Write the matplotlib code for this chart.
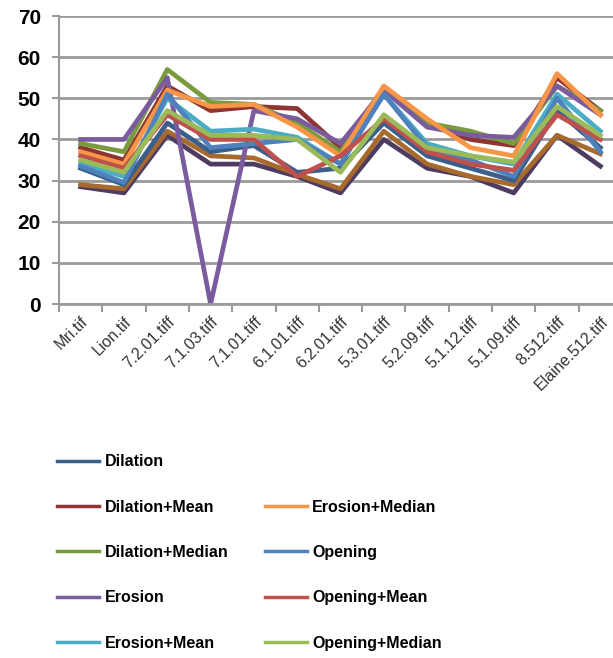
import matplotlib.pyplot as plt
from matplotlib.lines import Line2D
import numpy as np

images = ['Mri.tif', 'Lion.tif', '7.2.01.tiff', '7.1.03.tiff', '7.1.01.tiff',
          '6.1.01.tiff', '6.2.01.tiff', '5.3.01.tiff', '5.2.09.tiff',
          '5.1.12.tiff', '5.1.09.tiff', '8.512.tiff', 'Elaine.512.tiff']

# series without a visible legend entry (legend is cut off in the source)
extra_brown = [29, 28, 42, 36, 35.5, 31.5, 28, 42, 34, 31, 29, 41, 36.5]
extra_dpurple = [28.5, 27, 41, 34, 34, 31, 27, 40, 33, 31, 27, 41, 33.5]

dilation = [33, 29, 44, 37, 38.5, 32, 33, 44, 36, 33, 30, 47, 38]
dilation_mean = [38, 35, 53, 47, 48, 47.5, 38, 52.5, 44, 40, 38.5, 55, 47]
dilation_median = [39, 37, 57, 49, 48.5, 44, 37, 52, 44, 42, 39, 53, 47]
erosion = [40, 40, 55, 0, 47, 45, 39, 52, 43, 41, 40.5, 53, 46]
erosion_mean = [34, 31, 50, 42, 42.5, 40.5, 34, 51, 39, 36, 34, 51, 42]
erosion_median = [37, 34, 52, 48, 48.5, 43, 36, 53, 45, 38, 36, 56, 46]
opening = [33.5, 29.5, 51, 38, 39, 40, 34, 51, 38, 35, 31, 50, 37]
opening_mean = [36, 33, 46, 40, 40, 31, 36, 45, 37, 34, 32.5, 46, 40]
opening_median = [35, 32, 47, 41, 41, 40, 32, 46, 38, 36, 34.5, 48, 41]

names = ['Dilation', 'Dilation+Mean', 'Dilation+Median', 'Erosion',
         'Erosion+Mean', 'Erosion+Median', 'Opening', 'Opening+Mean',
         'Opening+Median']
series = [dilation, dilation_mean, dilation_median, erosion, erosion_mean,
          erosion_median, opening, opening_mean, opening_median]
colors = ['#3A5F8A', '#8E3432', '#7A9A3E', '#7A5C9E', '#4BACC6',
          '#F79646', '#4F81BD', '#C0504D', '#9BBB59']

fig = plt.figure(figsize=(6.13, 6.58), dpi=100)
ax = fig.add_axes([59/613, 1-304/658, 563/613, 288/658])

x = np.arange(len(images))
ax.plot(x, extra_dpurple, color='#4D3B62', lw=3.4, label='_nolegend_')
ax.plot(x, extra_brown, color='#A86A2C', lw=3.4, label='_nolegend_')
handles = []
for name, vals, c in zip(names, series, colors):
    ln, = ax.plot(x, vals, color=c, lw=3.4, label=name)
    handles.append(ln)

ax.set_xlim(-0.5, 12.5)
ax.set_ylim(0, 70)
ax.set_yticks(range(0, 71, 10))
ax.yaxis.grid(True, color='#9A9A9A', lw=2)
ax.set_axisbelow(True)
for s in ['top', 'right']:
    ax.spines[s].set_visible(False)
ax.spines['left'].set_color('#9A9A9A')
ax.spines['left'].set_linewidth(1.5)
ax.spines['bottom'].set_color('#9A9A9A')
ax.spines['bottom'].set_linewidth(2)

ax.set_xticks(x)
ax.set_xticklabels(images, rotation=45, ha='right', va='top',
                   rotation_mode='anchor', fontsize=11.5,
                   family='Liberation Sans', color='#333333')
ax.tick_params(axis='x', which='major', length=0, pad=7)
ax.set_xticks(np.arange(-0.5, 12.6, 1), minor=True)
ax.tick_params(axis='x', which='minor', length=6, width=1.5, color='#9A9A9A')
ax.tick_params(axis='y', length=5, width=1.5, color='#9A9A9A', pad=8)
for t in ax.get_yticklabels():
    t.set_fontsize(15)
    t.set_fontweight('bold')
    t.set_family('Liberation Sans')

blank = Line2D([], [], color='none')
leg_handles = handles[:5] + [blank] + handles[5:]
leg_labels = names[:5] + [''] + names[5:]
leg = fig.legend(leg_handles, leg_labels, ncol=2, loc='upper left',
                 bbox_to_anchor=(43/613, 1-440/658), frameon=False,
                 prop={'family': 'Liberation Sans', 'weight': 'bold', 'size': 11.5},
                 handlelength=2.6, handletextpad=0.35, labelspacing=1.9,
                 columnspacing=2.3)
for ln in leg.get_lines():
    ln.set_linewidth(2.5)

fig.savefig('out.png', dpi=100)
